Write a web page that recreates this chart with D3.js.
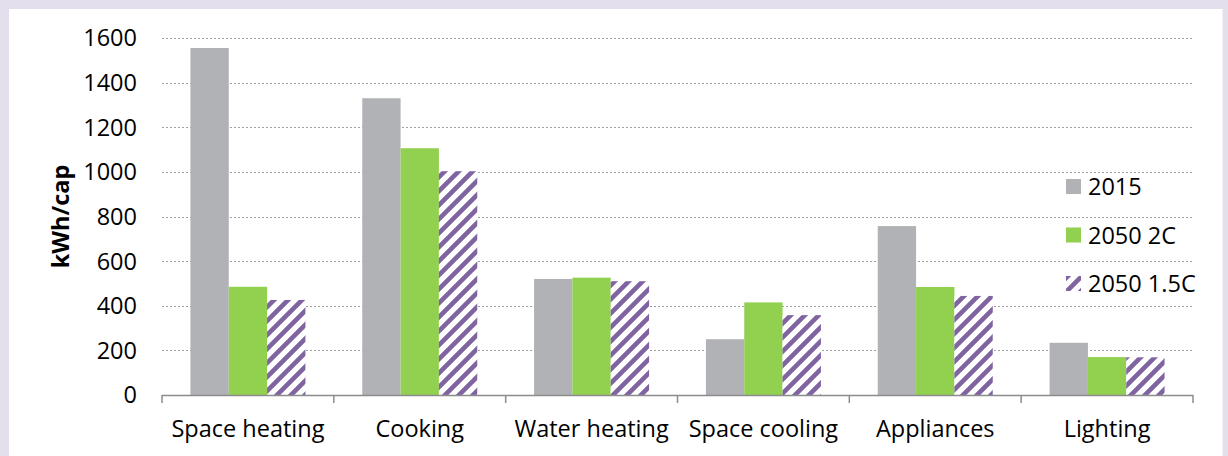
<!DOCTYPE html>
<html>
<head>
<meta charset="utf-8">
<script src="https://cdn.jsdelivr.net/npm/d3@7"></script>
<style>
  html, body { margin: 0; padding: 0; background: #e4dfec; }
  svg { display: block; }
  text { font-family: "Open Sans", Lato, sans-serif; fill: #000; }
</style>
</head>
<body>
<script>
const categories = ["Space heating", "Cooking", "Water heating", "Space cooling", "Appliances", "Lighting"];
const seriesNames = ["2015", "2050 2C", "2050 1.5C"];
const values2015 = [1555, 1330, 520, 250, 757, 234];
const values2050_2C = [485, 1106, 526, 415, 484, 170];
const values2050_15C = [426, 1003, 510, 358, 444, 169];
const yTicks = [0, 200, 400, 600, 800, 1000, 1200, 1400, 1600];
const yLabel = "kWh/cap";

const W = 1228, H = 456;
const margin = { left: 162, right: 1228 - 1193, top: 38, bottom: 456 - 395 };
const colors = ["#b1b2b6", "#92d050", "url(#stripes)"];
const FS = 23.5;

const svg = d3.select("body").append("svg").attr("width", W).attr("height", H);

const defs = svg.append("defs");
const pat = defs.append("pattern").attr("id", "stripes")
  .attr("patternUnits", "userSpaceOnUse").attr("width", 14).attr("height", 14);
pat.append("rect").attr("width", 14).attr("height", 14).attr("fill", "#fff");
pat.append("path").attr("d", "M-3,3 L3,-3 M0,14 L14,0 M11,17 L17,11")
  .attr("stroke", "#8064a2").attr("stroke-width", 4.6);

// white panel
svg.append("rect").attr("x", 9).attr("y", 9).attr("width", 1213.5).attr("height", H - 9).attr("fill", "#fff");

const x = d3.scaleBand().domain(categories).range([margin.left, W - margin.right]).paddingInner(0).paddingOuter(0);
const y = d3.scaleLinear().domain([0, 1600]).range([H - margin.bottom, margin.top]);
const groupW = 115;
const xs = d3.scaleBand().domain(seriesNames).range([0, groupW]).padding(0);

// gridlines
svg.append("g").selectAll("line").data(yTicks.filter(d => d > 0)).join("line")
  .attr("x1", margin.left).attr("x2", W - margin.right)
  .attr("y1", d => Math.round(y(d)) + 0.5).attr("y2", d => Math.round(y(d)) + 0.5)
  .attr("stroke", "#a0a0a0").attr("stroke-width", 1.2).attr("stroke-dasharray", "2,2");

// y tick labels
svg.append("g").selectAll("text").data(yTicks).join("text")
  .attr("x", 137).attr("y", d => y(d)).attr("dy", "0.36em")
  .attr("text-anchor", "end").attr("font-size", FS).text(d => d);

// y label
svg.append("text").attr("transform", `translate(69,${(y(0) + y(1600)) / 2}) rotate(-90)`)
  .attr("text-anchor", "middle").attr("font-size", FS).attr("font-weight", "bold").text(yLabel);

// bars
const series = [values2015, values2050_2C, values2050_15C];
series.forEach((vals, si) => {
  svg.append("g").selectAll("rect").data(categories).join("rect")
    .attr("x", c => x(c) + (x.bandwidth() - groupW) / 2 + xs(seriesNames[si]))
    .attr("width", xs.bandwidth())
    .attr("y", (c, i) => y(vals[i]))
    .attr("height", (c, i) => y(0) - y(vals[i]))
    .attr("fill", colors[si]);
});

// x axis
const xAxis = svg.append("g").attr("transform", `translate(0,${y(0)})`);
xAxis.append("line").attr("x1", margin.left).attr("x2", W - margin.right).attr("y1", 0.5).attr("y2", 0.5)
  .attr("stroke", "#8c8c8c").attr("stroke-width", 1.5);
const bounds = categories.map(c => x(c)).concat([x(categories[categories.length - 1]) + x.bandwidth()]);
xAxis.selectAll("line.tk").data(bounds).join("line").attr("class", "tk")
  .attr("x1", d => d).attr("x2", d => d).attr("y1", 0).attr("y2", 8)
  .attr("stroke", "#8c8c8c").attr("stroke-width", 1.5);
xAxis.selectAll("text").data(categories).join("text")
  .attr("x", c => x(c) + x.bandwidth() / 2).attr("y", 42)
  .attr("text-anchor", "middle").attr("font-size", FS).text(c => c);

// legend
const lg = svg.append("g");
seriesNames.forEach((s, i) => {
  const yy = 179 + i * 48.5;
  lg.append("rect").attr("x", 1066).attr("y", yy).attr("width", 15).attr("height", 15)
    .attr("fill", colors[i]);
  lg.append("text").attr("x", 1088).attr("y", yy + 16).attr("font-size", FS).text(s);
});
</script>
</body>
</html>
